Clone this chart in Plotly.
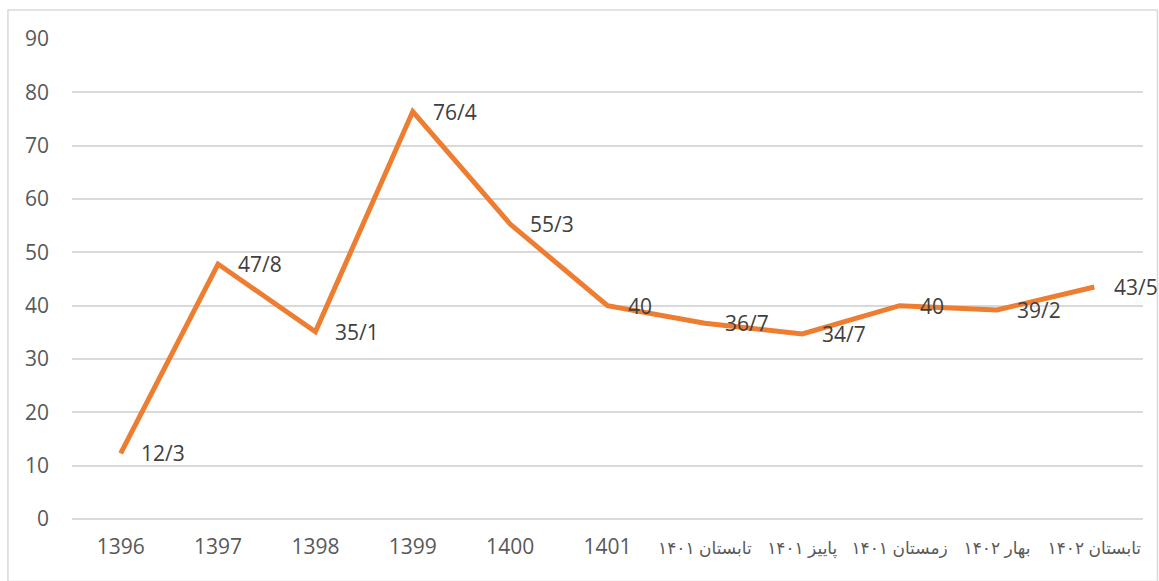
import plotly.graph_objects as go

categories = ["1396", "1397", "1398", "1399", "1400", "1401",
              "تابستان ۱۴۰۱", "پاییز ۱۴۰۱", "زمستان ۱۴۰۱", "بهار ۱۴۰۲", "تابستان ۱۴۰۲"]
values = [12.3, 47.8, 35.1, 76.4, 55.3, 40, 36.7, 34.7, 40, 39.2, 43.5]
labels = ["12/3", "47/8", "35/1", "76/4", "55/3", "40", "36/7", "34/7", "40", "39/2", "43/5"]
y_ticks = [0, 10, 20, 30, 40, 50, 60, 70, 80, 90]

FONT = "Open Sans, DejaVu Sans, sans-serif"
TXT = "#595959"


def tick_label(c):
    if c.isdigit():
        return c
    word, num = c.split(" ")
    # number first logically so the RTL run shows the word on the left, number on the right
    return '<span style="font-size:17px">%s %s</span>' % (num, word)


tick_text = [tick_label(c) for c in categories]

fig = go.Figure()
fig.add_trace(go.Scatter(
    x=list(range(len(categories))), y=values, mode="lines",
    line=dict(color="#ED7D31", width=5),
    hoverinfo="skip", showlegend=False,
))

for i, (v, t) in enumerate(zip(values, labels)):
    fig.add_annotation(x=i, y=v, text=t, showarrow=False,
                       xanchor="left", yanchor="middle", xshift=18,
                       font=dict(family=FONT, size=21, color="#404040"))

fig.add_shape(type="rect", xref="paper", yref="paper",
              x0=-0.0598, x1=1.0135, y0=-0.13, y1=1.0604,
              line=dict(color="#D9D9D9", width=1.5), fillcolor="rgba(0,0,0,0)",
              layer="below")

fig.update_layout(
    width=1159, height=581,
    margin=dict(l=72, r=16, t=39, b=62, autoexpand=False),
    paper_bgcolor="white", plot_bgcolor="white",
    font=dict(family=FONT, size=21, color=TXT),
    xaxis=dict(showgrid=False, showline=False, zeroline=False, automargin=False,
               tickvals=list(range(len(categories))), ticktext=tick_text,
               ticks="", tickfont=dict(size=21, color=TXT), ticklabelstandoff=13,
               range=[-0.5, len(categories) - 0.5]),
    yaxis=dict(range=[0, 90], tickvals=y_ticks, showgrid=True, automargin=False,
               gridcolor="#D9D9D9", gridwidth=1.5, zeroline=True,
               zerolinecolor="#D9D9D9", zerolinewidth=1.5, showline=False,
               ticks="", ticklabelstandoff=22, tickfont=dict(size=21, color=TXT)),
)

fig.write_html("out.html", config={"displayModeBar": False},
               post_script="document.body.style.margin='0';")
